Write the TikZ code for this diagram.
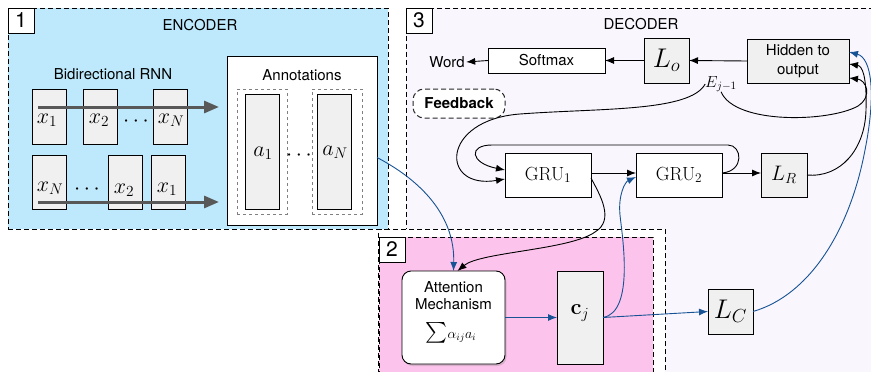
\RequirePackage{fix-cm}
\documentclass[tikz,border=0pt]{standalone}
\usepackage{exscale}
\usepackage[no-math]{fontspec}
\setmainfont{TeX Gyre Heros}
\usetikzlibrary{arrows.meta,shadows}
\definecolor{encfill}{RGB}{190,233,252}
\definecolor{decfill}{RGB}{249,246,254}
\definecolor{attfill}{RGB}{252,196,236}
\definecolor{boxgray}{RGB}{239,240,239}
\definecolor{bline}{RGB}{22,82,148}
\definecolor{garr}{RGB}{88,88,88}
\begin{document}
\begin{tikzpicture}[x=1pt,y=-1pt,
 every node/.style={inner sep=0pt, outer sep=0pt},
 region/.style={draw, dash pattern=on 5pt off 3pt, line width=0.9pt},
 numbox/.style={draw, fill=white, line width=0.9pt, minimum width=26pt, minimum height=25pt, font=\fontsize{21}{21}\selectfont},
 gbox/.style={draw, fill=boxgray, line width=0.9pt},
 wbox/.style={draw, fill=white, line width=0.9pt},
 sf/.style={font=\fontsize{15}{17}\selectfont},
 mlab/.style={font=\fontsize{22}{22}\selectfont},
 arr/.style={-{Latex[length=9pt,width=7pt]}, line width=0.9pt},
 barr/.style={arr, draw=bline, color=bline},
 bigarr/.style={-{Triangle[length=15pt,width=12pt]}, line width=3pt, draw=garr, color=garr},
]
\useasboundingbox (0,0) rectangle (871,372);
% regions
\node[region, fill=decfill, anchor=north west, minimum width=480pt, minimum height=380pt] (dec) at (406,8) {};
\node[region, fill=white, anchor=north west, minimum width=287pt, minimum height=150pt] (outer2) at (378,229) {};
\node[region, fill=attfill, anchor=north west, minimum width=274pt, minimum height=150pt] (att) at (379,237) {};
\node[region, fill=encfill, anchor=north west, minimum width=380pt, minimum height=221pt] (enc) at (8,8) {};
\node[numbox, anchor=north west] (n1) at (8,8) {1};
\node[numbox, anchor=north west] (n3) at (406,8) {3};
\node[numbox, anchor=north west] (n2) at (379,237) {2};
\node[sf] (enctitle) at (200,25) {ENCODER};
\node[sf] (dectitle) at (641,24) {DECODER};

% encoder
\node[sf] (birnn) at (113,74) {Bidirectional RNN};
\node[gbox, minimum width=34pt, minimum height=55pt] (x1t) at (49.5,116.5) {};
\node[gbox, minimum width=34pt, minimum height=55pt] (x2t) at (100.5,116.5) {};
\node[gbox, minimum width=34pt, minimum height=55pt] (xNt) at (170,116.5) {};
\node[gbox, minimum width=34pt, minimum height=54pt] (xNb) at (49.5,182) {};
\node[gbox, minimum width=34pt, minimum height=54pt] (x2b) at (125,182) {};
\node[gbox, minimum width=34pt, minimum height=54pt] (x1b) at (168.5,182) {};
\node[mlab] (lx1t) at (47,120) {$x_1$};
\node[mlab] (lx2t) at (99,120) {$x_2$};
\node[mlab] (ldt) at (136,122) {$\cdots$};
\node[mlab] (lxNt) at (171,120) {$x_N$};
\node[mlab] (lxNb) at (50,188) {$x_N$};
\node[mlab] (ldb) at (87,190) {$\cdots$};
\node[mlab] (lx2b) at (124,190) {$x_2$};
\node[mlab] (lx1b) at (167,189) {$x_1$};
\coordinate (ta0) at (38,107); \coordinate (ta1) at (219,107);
\coordinate (tb0) at (38,202); \coordinate (tb1) at (219,202);
\draw[bigarr] (ta0) -- (ta1);
\draw[bigarr] (tb0) -- (tb1);

\node[draw, fill=white, line width=1pt, anchor=north west, minimum width=150pt, minimum height=169pt] (ann) at (227,56) {};
\node[sf] (anntitle) at (302,75) {Annotations};
\node[draw=gray, dashed, line width=0.8pt, anchor=north west, minimum width=50pt, minimum height=125pt] (d1) at (237,89) {};
\node[draw=gray, dashed, line width=0.8pt, anchor=north west, minimum width=50pt, minimum height=125pt] (d2) at (312,89) {};
\node[gbox, minimum width=34pt, minimum height=115pt] (a1) at (262,151.5) {};
\node[gbox, minimum width=34pt, minimum height=115pt] (aN) at (334.5,151.5) {};
\node[mlab] (la1) at (263,153) {$a_1$};
\node[mlab] (laN) at (335,152) {$a_N$};
\node[mlab] (lda) at (299,156) {$\cdots$};

% decoder
\node[sf, inner sep=1.5pt] (word) at (447,62) {Word};
\node[wbox, sf, minimum width=117pt, minimum height=25pt] (soft) at (546.5,60.5) {Softmax};
\node[gbox, minimum width=45pt, minimum height=45pt, font=\fontsize{27}{27}\selectfont] (lo) at (666.5,60.5) {$L_o$};
\node[gbox, minimum width=102pt, minimum height=44pt, align=center, font=\fontsize{15}{19}\selectfont] (hid) at (798,61) {Hidden to\\output};
\node[font=\fontsize{16}{16}\selectfont] (ej) at (721,84) {$E_{j-1}$};
\node[draw=black!85, dash pattern=on 5pt off 3pt, rounded corners=11pt, fill=white, line width=1pt, minimum width=92pt, minimum height=29pt, font=\bfseries\fontsize{15}{15}\selectfont] (fb) at (459,103.5) {Feedback};
\node[wbox, minimum width=86pt, minimum height=44pt, font=\fontsize{19}{19}\selectfont] (gru1) at (548,175) {$\mathrm{GRU}_1$};
\node[wbox, minimum width=86pt, minimum height=44pt, font=\fontsize{19}{19}\selectfont] (gru2) at (679,175) {$\mathrm{GRU}_2$};
\node[gbox, minimum width=46pt, minimum height=44pt, font=\fontsize{21}{21}\selectfont] (lr) at (784,175) {$L_R$};

\draw[arr] (hid.west) -- (lo.east);
\draw[arr] (lo.west) -- (soft.east);
\draw[arr] (soft.west) -- (word.east);
\draw[arr] ([yshift=2pt]gru1.east) -- ([yshift=2pt]gru2.west);
\draw[arr] ([yshift=2pt]gru2.east) -- ([yshift=2pt]lr.west);
\draw[arr] ([yshift=2pt]gru2.east) .. controls (745,171) and (742,145) .. (728,145) -- (492,145) .. controls (468,145) and (470,163) .. ([yshift=5pt]gru1.west);
\draw[arr] (ej.west) .. controls (690,112) and (600,108) .. (520,114) .. controls (440,120) and (440,190) .. ([yshift=-4pt]gru1.west);
\draw[arr] (ej.south) .. controls (735,125) and (830,122) .. (858,106) .. controls (873,96) and (866,80) .. ([yshift=-17pt]hid.east);
\draw[arr] (lr.east) .. controls (840,178) and (865,150) .. (866,110) .. controls (867,75) and (862,66) .. ([yshift=-3pt]hid.east);

% attention
\node[draw, fill=white, rounded corners=9pt, line width=0.9pt, minimum width=103pt, minimum height=93pt,
  drop shadow={shadow xshift=1.5pt, shadow yshift=-2pt, opacity=0.3}] (attn) at (453.5,317.5) {};
\node[font=\fontsize{15}{15}\selectfont] (attt1) at (453.5,287) {Attention};
\node[font=\fontsize{15}{15}\selectfont] (attt2) at (453.5,304) {Mechanism};
\node (attt3) at (451,333) {\fontsize{22}{22}\selectfont$\sum$\fontsize{14}{14}\selectfont$\alpha_{ij}a_i$};
\node[gbox, minimum width=46pt, minimum height=93pt] (cj) at (580,317.5) {};
\node[mlab] (lcj) at (580,313) {$\mathbf{c}_j$};
\node[gbox, minimum width=45pt, minimum height=45pt, font=\fontsize{27}{27}\selectfont] (lc) at (730.5,311.5) {$L_C$};

\draw[barr] ([yshift=-17pt]ann.east) .. controls (420,180) and (455,215) .. (attn.north);
\draw[arr] ([yshift=-3pt]gru1.east) .. controls (600,195) and (615,220) .. (595,232) .. controls (570,250) and (480,252) .. ([xshift=4pt]attn.north);
\draw[barr] (attn.east) -- (cj.west);
\draw[barr] (cj.east) -- (lc.west);
\draw[barr] (cj.east) .. controls (635,312) and (622,235) .. (620,215) .. controls (618,195) and (625,182) .. ([yshift=-2pt]gru2.west);
\draw[barr] (lc.east) .. controls (810,295) and (850,230) .. (865,150) .. controls (876,95) and (872,58) .. ([yshift=9pt]hid.east);
\end{tikzpicture}
\end{document}
